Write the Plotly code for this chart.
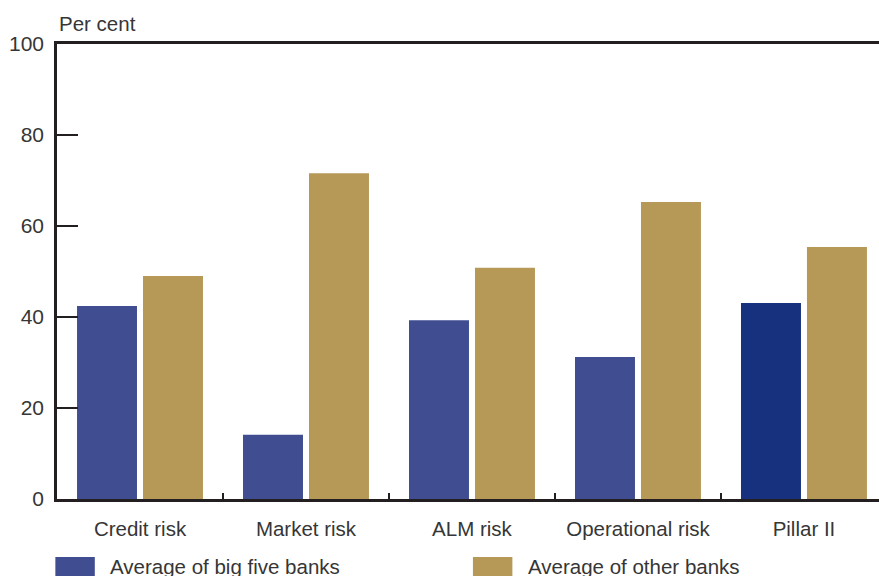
import plotly.graph_objects as go

# Share of capital requirement by risk type, per cent
categories = ["Credit risk", "Market risk", "ALM risk", "Operational risk", "Pillar II"]
big_five = [42.4, 14.1, 39.3, 31.2, 43.1]
other_banks = [49.0, 71.6, 50.8, 65.3, 55.4]
series_names = ["Average of big five banks", "Average of other banks"]
y_ticks = [0, 20, 40, 60, 80, 100]

BLUE = "#404d91"
BLUE_DARK = "#18317f"
GOLD = "#b69957"
INK = "#231f20"
TEXT = "#363636"
FONT = "Liberation Sans"

big_five_colors = [BLUE] * (len(categories) - 1) + [BLUE_DARK]

fig = go.Figure()
fig.add_trace(go.Bar(x=categories, y=big_five, name=series_names[0],
                     marker=dict(color=big_five_colors, line_width=0)))
fig.add_trace(go.Bar(x=categories, y=other_banks, name=series_names[1],
                     marker=dict(color=GOLD, line_width=0)))

fig.update_layout(
    width=879, height=576,
    margin=dict(l=57, r=0, t=44, b=77),
    paper_bgcolor="white", plot_bgcolor="white",
    barmode="group", bargap=0.205, bargroupgap=0.091,
    showlegend=False,
    font=dict(family=FONT, size=20, color=TEXT),
)

fig.update_xaxes(
    type="category", range=[-0.5, 4.452],
    showline=True, linecolor=INK, linewidth=2.5, mirror=True,
    ticks="inside", tickson="boundaries", ticklen=6, tickwidth=2, tickcolor=INK,
    ticklabelstandoff=10, showgrid=False, zeroline=False,
    tickfont=dict(family=FONT, size=20.5, color=TEXT),
)
fig.update_yaxes(
    range=[0, 100], tickvals=y_ticks,
    showline=True, linecolor=INK, linewidth=2.5,
    ticks="inside", ticklen=21, tickwidth=2, tickcolor=INK,
    ticklabelstandoff=6, showgrid=False, zeroline=False,
    tickfont=dict(family=FONT, size=21, color=TEXT),
)

fig.add_annotation(text="Per cent", xref="paper", yref="paper",
                   x=0.0, y=1.0, xanchor="left", yanchor="bottom", yshift=7,
                   showarrow=False, font=dict(family=FONT, size=20.5, color=TEXT))

# Legend keys drawn below the axis
legend_items = [(series_names[0], BLUE, -0.002), (series_names[1], GOLD, 0.506)]
for name, color, x0 in legend_items:
    fig.add_shape(type="rect", xref="paper", yref="paper",
                  x0=x0, x1=x0 + 0.048, y0=-0.19, y1=-0.1275,
                  fillcolor=color, line_width=0, layer="above")
    fig.add_annotation(text=name, xref="paper", yref="paper",
                       x=x0 + 0.064, y=-0.148, xanchor="left", yanchor="middle",
                       showarrow=False, font=dict(family=FONT, size=20.5, color=TEXT))

fig.write_html("out.html")
